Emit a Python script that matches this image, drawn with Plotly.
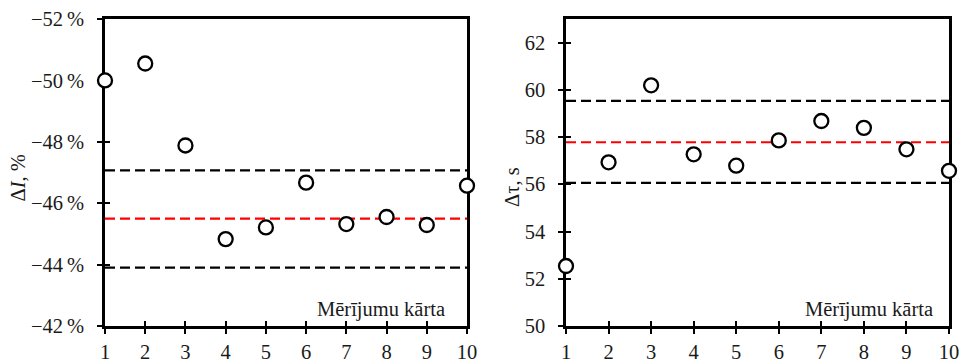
import plotly.graph_objects as go

# Measurement order
order = [1, 2, 3, 4, 5, 6, 7, 8, 9, 10]

# Relative change of current, %
delta_i = [-50.0, -50.55, -47.88, -44.83, -45.21, -46.67, -45.32, -45.55, -45.29, -46.57]
delta_i_mean = -45.5
delta_i_upper = -47.07
delta_i_lower = -43.9

# Time shift, s
delta_tau = [52.54, 56.93, 60.19, 57.27, 56.79, 57.86, 58.68, 58.39, 57.48, 56.57]
delta_tau_mean = 57.78
delta_tau_upper = 59.53
delta_tau_lower = 56.06

# Tick labels
i_tickvals = [-52, -50, -48, -46, -44, -42]
i_ticktext = ["\u221252\u2009%", "\u221250\u2009%", "\u221248\u2009%",
              "\u221246\u2009%", "\u221244\u2009%", "\u221242\u2009%"]
tau_tickvals = [50, 52, 54, 56, 58, 60, 62]
x_tickvals = order

FONT = "Liberation Serif"
FS = 20.5
TXT = "#1a1a1a"
DASH = "10px,5px"

fig = go.Figure()


def ref_line(value, color, xa, ya):
    fig.add_trace(go.Scatter(
        x=[order[0], order[-1]], y=[value, value], mode="lines",
        line=dict(color=color, width=2.2, dash=DASH),
        xaxis=xa, yaxis=ya, showlegend=False, hoverinfo="skip",
        cliponaxis=False))


def points(values, xa, ya):
    fig.add_trace(go.Scatter(
        x=order, y=values, mode="markers",
        marker=dict(symbol="circle", size=14, color="white",
                    line=dict(color="black", width=2.3)),
        xaxis=xa, yaxis=ya, showlegend=False, cliponaxis=False,
        hoverinfo="x+y"))


# Left panel
ref_line(delta_i_upper, "black", "x", "y")
ref_line(delta_i_lower, "black", "x", "y")
ref_line(delta_i_mean, "#ff0000", "x", "y")
points(delta_i, "x", "y")

# Right panel
ref_line(delta_tau_upper, "black", "x2", "y2")
ref_line(delta_tau_lower, "black", "x2", "y2")
ref_line(delta_tau_mean, "#ff0000", "x2", "y2")
points(delta_tau, "x2", "y2")

# Empty traces on the overlay axes that carry the inner half of the ticks
for xa, ya in (("x3", "y3"), ("x4", "y4")):
    fig.add_trace(go.Scatter(x=[None], y=[None], xaxis=xa, yaxis=ya,
                             showlegend=False, hoverinfo="skip"))

tickfont = dict(family=FONT, size=FS, color=TXT)

common = dict(tickwidth=2, tickcolor="black", showgrid=False, zeroline=False,
              layer="below traces", fixedrange=True, automargin=False)
base_x = dict(common, range=[1, 10], tickvals=x_tickvals, ticks="outside",
              ticklen=5, showline=True, linewidth=2.5, linecolor="black",
              mirror=True, tickfont=tickfont, ticklabelstandoff=1,
              ticklabeloverflow="allow")
base_y = dict(common, ticks="outside", ticklen=5, showline=True,
              linewidth=2.5, linecolor="black", mirror=True,
              tickfont=tickfont, ticklabelstandoff=9,
              ticklabeloverflow="allow")
inner = dict(common, ticks="inside", ticklen=5, showline=False,
             showticklabels=False)

LEFT_DOM = [105 / 959, 467 / 959]
RIGHT_DOM = [566 / 959, 949 / 959]
Y_DOM = [34 / 360, 341 / 360]

fig.update_layout(
    template="none",
    width=959, height=360,
    margin=dict(l=0, r=0, t=0, b=0, pad=0),
    paper_bgcolor="white", plot_bgcolor="white",
    font=dict(family=FONT, size=FS, color=TXT),
    showlegend=False,
    xaxis=dict(base_x, domain=LEFT_DOM, anchor="y"),
    yaxis=dict(base_y, domain=Y_DOM, anchor="x", range=[-42, -52],
               tickvals=i_tickvals, ticktext=i_ticktext),
    xaxis2=dict(base_x, domain=RIGHT_DOM, anchor="y2"),
    yaxis2=dict(base_y, domain=Y_DOM, anchor="x2", range=[50, 63],
                tickvals=tau_tickvals),
    xaxis3=dict(inner, overlaying="x", anchor="y3", range=[1, 10],
                tickvals=x_tickvals),
    yaxis3=dict(inner, overlaying="y", anchor="x3", range=[-42, -52],
                tickvals=i_tickvals),
    xaxis4=dict(inner, overlaying="x2", anchor="y4", range=[1, 10],
                tickvals=x_tickvals),
    yaxis4=dict(inner, overlaying="y2", anchor="x4", range=[50, 63],
                tickvals=tau_tickvals),
    annotations=[
        # Y-axis titles
        dict(text="\u0394<i>I</i>, %", xref="paper", yref="paper",
             x=17.5 / 959, y=(360 - 178) / 360, textangle=-90,
             xanchor="center", yanchor="middle", showarrow=False,
             font=dict(family=FONT, size=FS, color=TXT)),
        dict(text="\u0394\u03c4, s", xref="paper", yref="paper",
             x=512.5 / 959, y=(360 - 187.5) / 360, textangle=-90,
             xanchor="center", yanchor="middle", showarrow=False,
             font=dict(family=FONT, size=FS, color=TXT)),
        # X-axis captions inside the plot areas
        dict(text="Mērījumu kārta", xref="x domain", yref="y domain",
             x=1 - 20 / 362, y=17 / 307, xanchor="right", yanchor="middle",
             showarrow=False, font=dict(family=FONT, size=FS, color=TXT)),
        dict(text="Mērījumu kārta", xref="x2 domain", yref="y2 domain",
             x=1 - 14 / 383, y=17 / 307, xanchor="right", yanchor="middle",
             showarrow=False, font=dict(family=FONT, size=FS, color=TXT)),
    ],
)

fig.write_html("out.html")
